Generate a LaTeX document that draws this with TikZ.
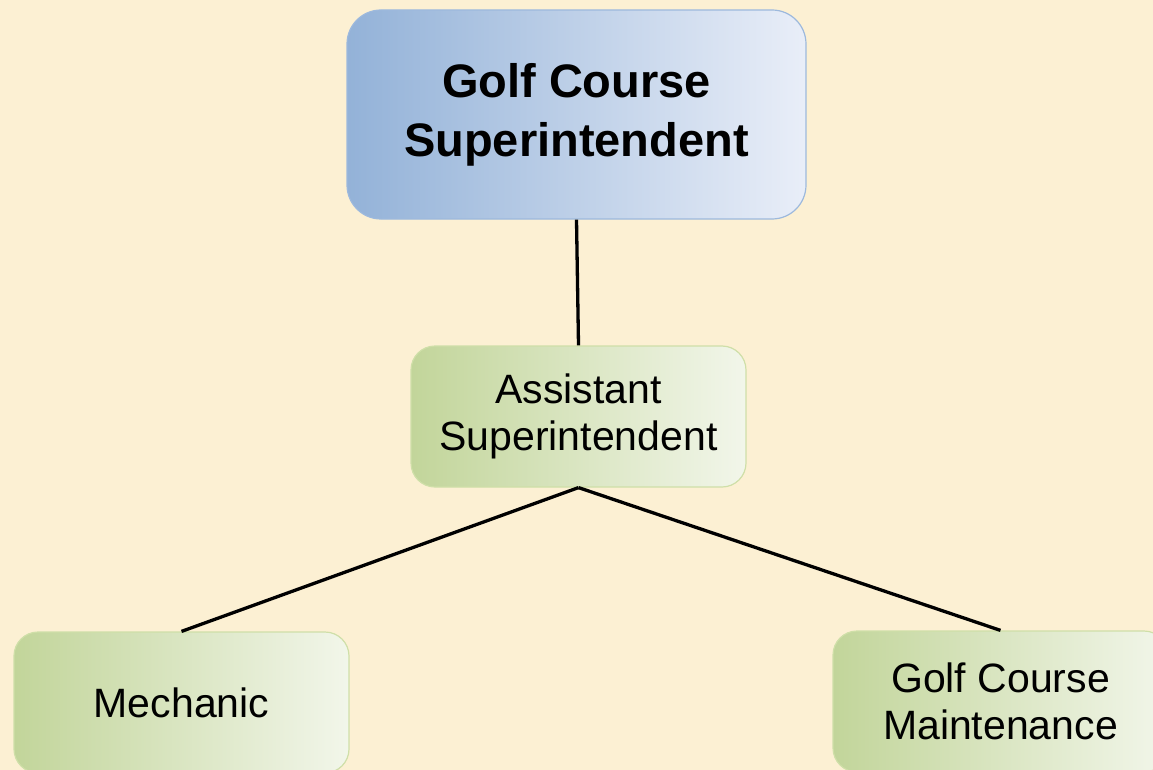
\documentclass[tikz,border=0pt]{standalone}
\usepackage{fontspec}
\setmainfont{Liberation Sans}
\definecolor{parchment}{HTML}{FCF0D3}
\definecolor{blueL}{HTML}{93B2D8}
\definecolor{blueR}{HTML}{E9EEF8}
\definecolor{blueEdge}{HTML}{9DB9DD}
\definecolor{greenL}{HTML}{C2D59A}
\definecolor{greenR}{HTML}{F2F6EA}
\definecolor{greenEdge}{HTML}{CFDFA8}
\tikzset{
  headbox/.style={rectangle, rounded corners=34pt, draw=blueEdge, line width=1.2pt,
    left color=blueL, right color=blueR, minimum width=459pt, minimum height=209pt,
    inner sep=0pt, align=center, font=\fontsize{47}{59}\selectfont\bfseries},
  staffbox/.style={rectangle, rounded corners=24pt, draw=greenEdge, line width=1.2pt,
    left color=greenL, right color=greenR, minimum width=335pt, minimum height=141pt,
    inner sep=0pt, align=center, font=\fontsize{41}{47}\selectfont},
  link/.style={line width=3.3pt, black}
}
\begin{document}
\begin{tikzpicture}[x=1pt, y=-1pt]
  % page area and background
  \useasboundingbox (0,0) rectangle (1153,770);
  \clip (0,0) rectangle (1153,770);
  \fill[parchment] (0,0) rectangle (1153,770);

  % positions
  \node[headbox]  (sup)  at (576.5,114.5) {Golf Course\\Superintendent};
  \node[staffbox] (asst) at (578.5,416.5) {Assistant\\Superintendent};
  \node[staffbox] (mech) at (181.5,702.5) {Mechanic};
  \node[staffbox] (maint) at (1000.5,701.5) {Golf Course\\Maintenance};

  % reporting lines
  \draw[link] (sup.south) -- (asst.north);
  \draw[link] (asst.south) -- (mech.north);
  \draw[link] (asst.south) -- (maint.north);
\end{tikzpicture}
\end{document}
